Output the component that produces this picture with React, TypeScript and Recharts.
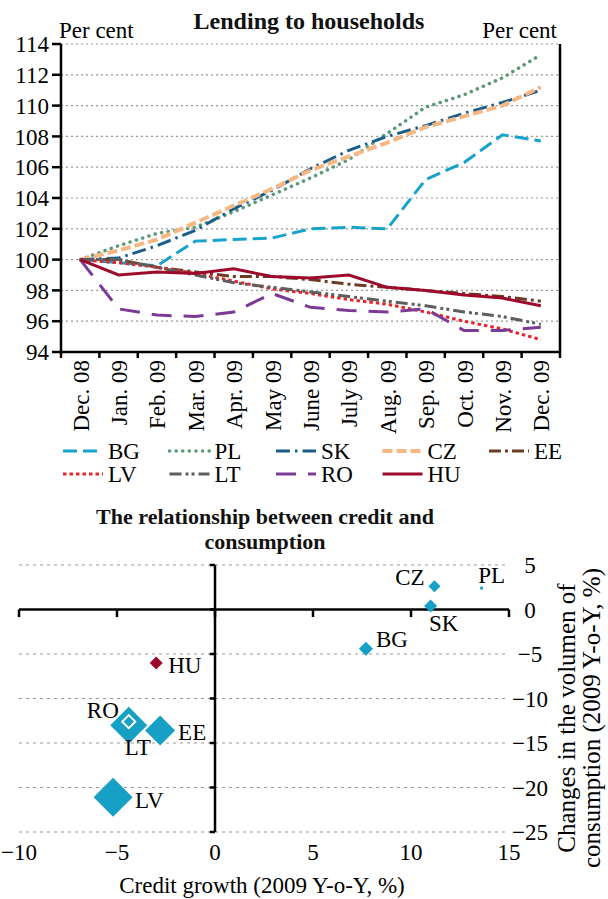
import React from "react";
import {
  LineChart,
  Line,
  XAxis,
  YAxis,
  CartesianGrid,
  ScatterChart,
  Scatter,
  ZAxis,
  ReferenceLine,
} from "recharts";

const FONT = "'Liberation Serif', 'Times New Roman', serif";
const FS = 23;

// ---- lending to households (index, Dec. 08 = 100)
const months = [
  "Dec. 08", "Jan. 09", "Feb. 09", "Mar. 09", "Apr. 09", "May 09", "June 09",
  "July 09", "Aug. 09", "Sep. 09", "Oct. 09", "Nov. 09", "Dec. 09",
];
const bg = [100, 99.8, 99.6, 101.2, 101.3, 101.4, 102.0, 102.1, 102.0, 105.2, 106.3, 108.1, 107.7];
const pl = [100, 100.9, 101.7, 102.1, 103.1, 104.2, 105.3, 106.5, 108.2, 109.9, 110.7, 111.8, 113.3];
const sk = [100, 100.1, 100.9, 101.9, 103.3, 104.5, 105.9, 107.1, 108.0, 108.7, 109.5, 110.2, 111.0];
const cz = [100, 100.6, 101.3, 102.4, 103.5, 104.6, 105.8, 106.7, 107.6, 108.6, 109.3, 110.0, 111.2];
const ee = [100, 100.0, 99.5, 99.2, 98.9, 98.9, 98.7, 98.4, 98.2, 98.0, 97.8, 97.6, 97.3];
const lv = [100, 99.8, 99.5, 99.1, 98.6, 98.1, 97.8, 97.4, 97.1, 96.6, 96.0, 95.5, 94.8];
const lt = [100, 100.0, 99.5, 99.0, 98.5, 98.2, 97.9, 97.6, 97.3, 97.0, 96.6, 96.3, 95.8];
const ro = [100, 96.8, 96.4, 96.3, 96.6, 97.8, 96.9, 96.7, 96.6, 96.8, 95.4, 95.4, 95.6];
const hu = [100, 99.0, 99.2, 99.1, 99.4, 98.9, 98.8, 99.0, 98.2, 98.0, 97.7, 97.5, 97.0];
const lendingTicks = [94, 96, 98, 100, 102, 104, 106, 108, 110, 112, 114];

const seriesValues: Record<string, number[]> = {
  BG: bg, PL: pl, SK: sk, CZ: cz, EE: ee, LV: lv, LT: lt, RO: ro, HU: hu,
};

// ---- credit vs consumption (2009, y-o-y %)
const countries = ["PL", "CZ", "SK", "BG", "HU", "LT", "RO", "EE", "LV"];
const creditGrowth = [13.6, 11.2, 11.0, 7.7, -3.0, -4.4, -4.4, -2.8, -5.2];
const consumptionChange = [2.4, 2.6, 0.4, -4.4, -6.0, -13.0, -12.6, -13.6, -21.1];
const bubbleSize = [8, 72, 85, 98, 85, 685, 85, 450, 760];
const xTicks = [-10, -5, 0, 5, 10, 15];
const yTicks = [5, 0, -5, -10, -15, -20, -25];

// styles
const lineStyles: { key: string; color: string; dash?: string; width: number; cap?: "round" | "butt" }[] = [
  { key: "BG", color: "#18a3cc", dash: "14 6", width: 3 },
  { key: "PL", color: "#5b9878", dash: "0.1 6.5", width: 3.5, cap: "round" },
  { key: "SK", color: "#1b5e8c", dash: "14 5 2.5 5", width: 3 },
  { key: "CZ", color: "#f5b784", dash: "10 4", width: 4 },
  { key: "EE", color: "#6c3a26", dash: "12 4 3 4", width: 3 },
  { key: "LV", color: "#e3262b", dash: "3.5 3", width: 3 },
  { key: "LT", color: "#5e5e5e", dash: "12 4 3 3 3 4", width: 3 },
  { key: "RO", color: "#7b3a96", dash: "20 12", width: 3 },
  { key: "HU", color: "#9e0a2c", width: 3 },
];

const BLUE = "#17a0c6";
const markerStyle: Record<string, { fill: string; stroke?: string; square?: boolean }> = {
  PL: { fill: BLUE, square: true },
  HU: { fill: "#9b0a2e" },
  RO: { fill: BLUE, stroke: "#fff" },
};
const labelPlace: Record<string, { dx: number; dy: number; anchor: "start" | "middle" | "end" }> = {
  PL: { dx: 10, dy: -5, anchor: "middle" },
  CZ: { dx: -10, dy: -1, anchor: "end" },
  SK: { dx: 13, dy: 25, anchor: "middle" },
  BG: { dx: 10, dy: -2, anchor: "start" },
  HU: { dx: 12, dy: 10, anchor: "start" },
  LT: { dx: 9, dy: 30, anchor: "middle" },
  RO: { dx: -10, dy: -4, anchor: "end" },
  EE: { dx: 18, dy: 9, anchor: "start" },
  LV: { dx: 22, dy: 11, anchor: "start" },
};

const lineData = months.map((m, i) => {
  const row: Record<string, string | number> = { month: m };
  Object.keys(seriesValues).forEach((k) => (row[k] = seriesValues[k][i]));
  return row;
});

const scatterData = countries.map((c, i) => ({
  name: c,
  x: creditGrowth[i],
  y: consumptionChange[i],
  z: bubbleSize[i],
}));

const BAND = 499 / months.length;
const minus = (v: number) => String(v).replace("-", "\u2212");

const MonthTick = (props: any) => {
  const { x, y, payload } = props;
  const half = BAND / 2;
  const last = payload.value === months[months.length - 1];
  return (
    <g>
      <line x1={x - half} x2={x - half} y1={y} y2={y + 6} stroke="#000" strokeWidth={2.5} />
      {last && <line x1={x + half} x2={x + half} y1={y} y2={y + 6} stroke="#000" strokeWidth={2.5} />}
      <text
        transform={`translate(${x + 1},${y + 8}) rotate(-90)`}
        textAnchor="end"
        dominantBaseline="central"
        fontSize={FS}
        fontFamily={FONT}
        fill="#000"
      >
        {payload.value}
      </text>
    </g>
  );
};

const RightLendingTick = (props: any) => (
  <text x={props.x + 32} y={props.y} dy="0.35em" textAnchor="end" fontSize={FS} fontFamily={FONT} fill="#000">
    {props.payload.value}
  </text>
);

const RightScatterTick = (props: any) => (
  <text x={props.x} y={props.y} dy="0.35em" textAnchor="middle" fontSize={FS} fontFamily={FONT} fill="#000">
    {minus(props.payload.value)}
  </text>
);

const Diamond = (props: any) => {
  const { cx, cy, payload } = props;
  const area = typeof props.size === "number" ? props.size : payload.z;
  const st = markerStyle[payload.name] || { fill: BLUE };
  const lp = labelPlace[payload.name];
  let mark;
  if (st.square) {
    const s = Math.sqrt(area);
    mark = <rect x={cx - s / 2} y={cy - s / 2} width={s} height={s} fill={st.fill} />;
  } else {
    const r = Math.sqrt(area / 2);
    mark = (
      <polygon
        points={`${cx},${cy - r} ${cx + r},${cy} ${cx},${cy + r} ${cx - r},${cy}`}
        fill={st.fill}
        stroke={st.stroke || "none"}
        strokeWidth={2}
      />
    );
  }
  return (
    <g>
      {mark}
      <text x={cx + lp.dx} y={cy + lp.dy} textAnchor={lp.anchor} fontSize={FS} fontFamily={FONT} fill="#000">
        {payload.name}
      </text>
    </g>
  );
};

const axisStroke = { stroke: "#000", strokeWidth: 2.5 };

export default function App() {
  return (
    <div style={{ position: "absolute", left: 0, top: 0, width: 608, height: 899, background: "#fff", fontFamily: FONT }}>
      <div style={{ position: "absolute", left: 0, top: 0 }}>
        <LineChart width={608} height={442} data={lineData} margin={{ top: 44, right: 0, bottom: 0, left: 0 }}>
          <CartesianGrid vertical={false} stroke="#999" strokeDasharray="2 3" strokeWidth={1.2} yAxisId="left" />
          <XAxis
            dataKey="month"
            interval={0}
            padding={{ left: BAND / 2, right: BAND / 2 }}
            height={90}
            tickSize={0}
            tickMargin={0}
            axisLine={axisStroke}
            tickLine={false}
            tick={(p: any) => <MonthTick {...p} />}
          />
          <YAxis
            yAxisId="left"
            domain={[94, 114]}
            ticks={lendingTicks}
            interval={0}
            width={61}
            tickSize={9}
            tickMargin={3}
            axisLine={axisStroke}
            tickLine={axisStroke}
            tick={{ fill: "#000", fontSize: FS, fontFamily: FONT }}
          />
          <YAxis
            yAxisId="right"
            orientation="right"
            domain={[94, 114]}
            ticks={lendingTicks}
            interval={0}
            width={48}
            tickSize={9}
            tickMargin={3}
            axisLine={axisStroke}
            tickLine={axisStroke}
            tick={(p: any) => <RightLendingTick {...p} />}
          />
          {lineStyles.map((s) => (
            <Line
              key={s.key}
              yAxisId="left"
              type="linear"
              dataKey={s.key}
              stroke={s.color}
              strokeWidth={s.width}
              strokeDasharray={s.dash}
              strokeLinecap={s.cap || "butt"}
              dot={false}
              activeDot={false}
              isAnimationActive={false}
            />
          ))}
        </LineChart>
      </div>

      <svg style={{ position: "absolute", left: 0, top: 0 }} width={608} height={42}>
        <text x={309} y={29} textAnchor="middle" fontWeight="bold" fontSize={24} fontFamily={FONT} fill="#111">
          Lending to households
        </text>
        <text x={59} y={38} textAnchor="start" fontSize={FS} fontFamily={FONT} fill="#000">Per cent</text>
        <text x={557} y={38} textAnchor="end" fontSize={FS} fontFamily={FONT} fill="#000">Per cent</text>
      </svg>

      <svg style={{ position: "absolute", left: 0, top: 440 }} width={608} height={50}>
        {lineStyles.map((s, i) => {
          const x0 = 63 + (i % 5) * 106.5;
          const y0 = 11 + Math.floor(i / 5) * 23;
          return (
            <g key={s.key}>
              <line
                x1={x0}
                x2={x0 + 40}
                y1={y0}
                y2={y0}
                stroke={s.color}
                strokeWidth={s.width}
                strokeDasharray={s.dash}
                strokeLinecap={s.cap || "butt"}
              />
              <text x={x0 + 45} y={y0 + 8} fontSize={FS} fontFamily={FONT} fill="#000">{s.key}</text>
            </g>
          );
        })}
      </svg>

      <div style={{ position: "absolute", left: 0, top: 500 }}>
        <ScatterChart width={608} height={399} margin={{ top: 65, right: 0, bottom: 0, left: 19 }}>
          <CartesianGrid vertical={false} stroke="#999" strokeDasharray="3 4" strokeWidth={1.2} />
          <XAxis
            type="number"
            dataKey="x"
            domain={[-10, 15]}
            ticks={xTicks}
            interval={0}
            height={67}
            axisLine={false}
            tickLine={false}
            tickSize={0}
            tickMargin={12}
            tickFormatter={minus}
            tick={{ fill: "#000", fontSize: FS, fontFamily: FONT }}
          />
          <YAxis
            type="number"
            dataKey="y"
            orientation="right"
            domain={[-25, 5]}
            ticks={yTicks}
            interval={0}
            width={99}
            axisLine={false}
            tickLine={false}
            tickSize={0}
            tickMargin={21}
            tick={(p: any) => <RightScatterTick {...p} />}
          />
          <ZAxis type="number" dataKey="z" domain={[0, 800]} range={[0, 800]} />
          <ReferenceLine y={0} stroke="#000" strokeWidth={2.5} />
          <ReferenceLine x={0} stroke="#000" strokeWidth={2.5} />
          {xTicks.map((t) => (
            <ReferenceLine key={"xt" + t} segment={[{ x: t, y: 0 }, { x: t, y: -0.85 }]} stroke="#000" strokeWidth={2.5} />
          ))}
          {yTicks.map((t) => (
            <ReferenceLine key={"yt" + t} segment={[{ x: -0.27, y: t }, { x: 0, y: t }]} stroke="#000" strokeWidth={2.5} />
          ))}
          <Scatter data={scatterData} shape={(p: any) => <Diamond {...p} />} isAnimationActive={false} />
        </ScatterChart>
      </div>

      <svg style={{ position: "absolute", left: 0, top: 500, pointerEvents: "none" }} width={608} height={399}>
        <text x={265} y={24} textAnchor="middle" fontWeight="bold" fontSize={22} fontFamily={FONT} fill="#111">
          The relationship between credit and
        </text>
        <text x={265} y={49} textAnchor="middle" fontWeight="bold" fontSize={22} fontFamily={FONT} fill="#111">
          consumption
        </text>
        <text x={262} y={393} textAnchor="middle" fontSize={FS} fontFamily={FONT} fill="#000">
          Credit growth (2009 Y-o-Y, %)
        </text>
        <text transform="translate(575,218) rotate(-90)" textAnchor="middle" fontSize={25} fontFamily={FONT} fill="#000">
          Changes in the volumen of
        </text>
        <text transform="translate(600,218) rotate(-90)" textAnchor="middle" fontSize={25} fontFamily={FONT} fill="#000">
          consumption (2009 Y-o-Y, %)
        </text>
      </svg>
    </div>
  );
}
